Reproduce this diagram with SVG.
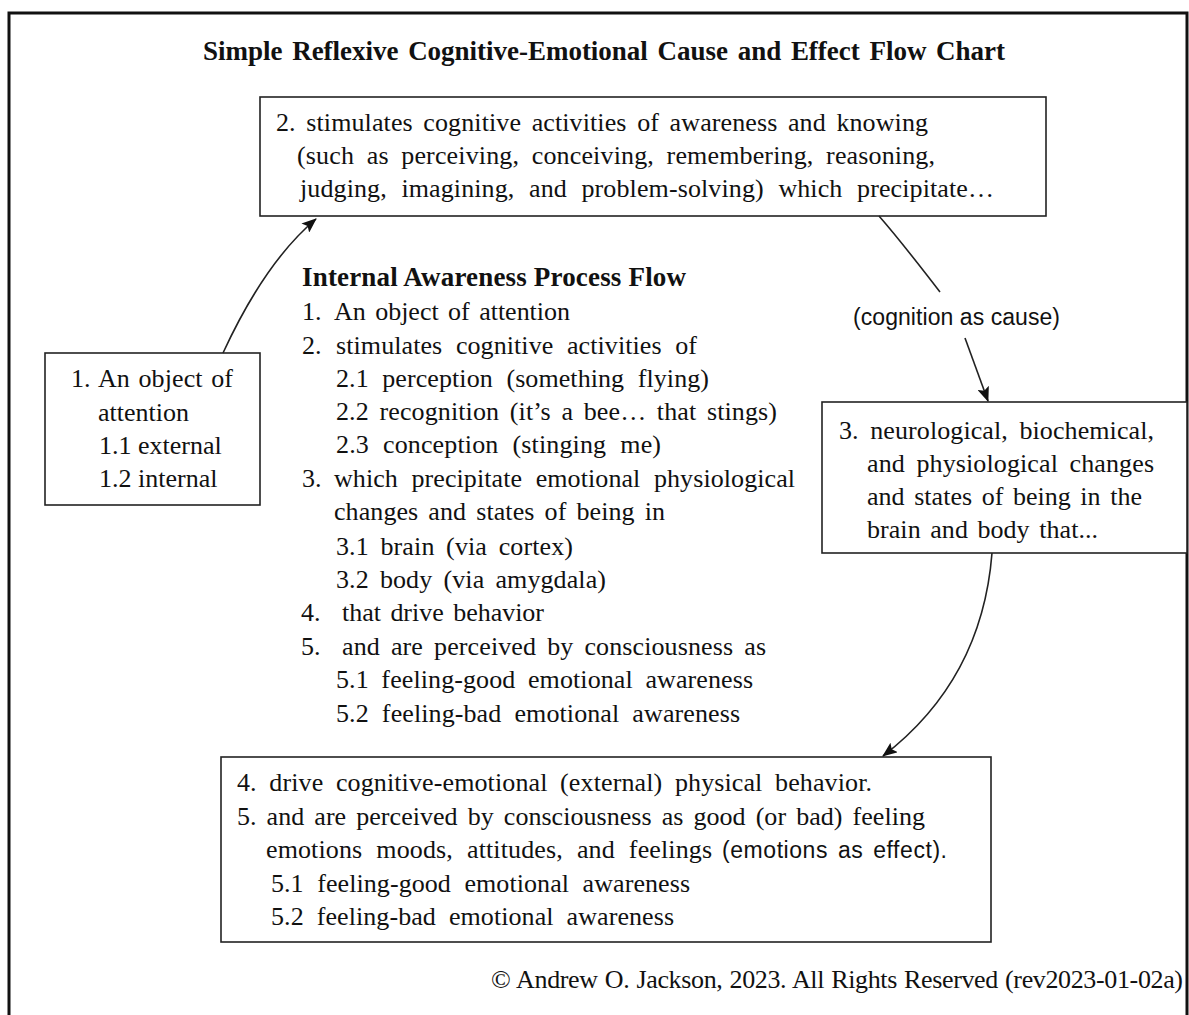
<svg xmlns="http://www.w3.org/2000/svg" width="1189" height="1015" viewBox="0 0 1189 1015">
<defs>
<style>
.box{fill:#fff;stroke:#222;stroke-width:1.6}
.t{font-family:"Liberation Serif","Times New Roman",serif;font-size:26px;fill:#111}
.b{font-family:"Liberation Serif","Times New Roman",serif;font-size:27px;font-weight:bold;fill:#111}
.s{font-family:"Liberation Sans",Arial,sans-serif;font-size:23px;fill:#111}
.c{fill:none;stroke:#222;stroke-width:1.6}
</style>
<marker id="ah" markerUnits="userSpaceOnUse" markerWidth="16" markerHeight="12" refX="14" refY="6" orient="auto">
<path d="M0,0 L15,6 L0,12 L3,6 z" fill="#111"/>
</marker>
</defs>
<rect width="1189" height="1015" fill="#fff"/>
<rect x="9" y="13" width="1178" height="1020" fill="none" stroke="#111" stroke-width="3"/>
<text class="b" x="203" y="60" word-spacing="3" textLength="802" lengthAdjust="spacing">Simple Reflexive Cognitive-Emotional Cause and Effect Flow Chart</text>

<g id="node-stimulates">
<rect class="box" x="260" y="97" width="786" height="119"/>
<text class="t" x="276" y="131" word-spacing="4" textLength="652" lengthAdjust="spacing">2. stimulates cognitive activities of awareness and knowing</text>
<text class="t" x="297" y="164" word-spacing="6" textLength="638" lengthAdjust="spacing">(such as perceiving, conceiving, remembering, reasoning,</text>
<text class="t" x="300" y="197" word-spacing="8" textLength="694" lengthAdjust="spacing">judging, imagining, and problem-solving) which precipitate…</text>
</g>

<g id="node-object">
<rect class="box" x="45" y="353" width="215" height="152"/>
<text class="t" x="71" y="387" word-spacing="2" textLength="162" lengthAdjust="spacing">1. An object of</text>
<text class="t" x="98" y="421">attention</text>
<text class="t" x="99" y="454">1.1 external</text>
<text class="t" x="99" y="487">1.2 internal</text>
</g>

<g id="node-process-flow">
<text class="b" x="302" y="286" textLength="384" lengthAdjust="spacing">Internal Awareness Process Flow</text>
<text class="t" x="302" y="320">1.</text><text class="t" x="334" y="320" word-spacing="3" textLength="236" lengthAdjust="spacing">An object of attention</text>
<text class="t" x="302" y="354">2.</text><text class="t" x="336" y="354" word-spacing="7" textLength="361" lengthAdjust="spacing">stimulates cognitive activities of</text>
<text class="t" x="336" y="387" word-spacing="7" textLength="373" lengthAdjust="spacing">2.1 perception (something flying)</text>
<text class="t" x="336" y="420" word-spacing="4" textLength="441" lengthAdjust="spacing">2.2 recognition (it’s a bee… that stings)</text>
<text class="t" x="336" y="453" word-spacing="7.5" textLength="325" lengthAdjust="spacing">2.3 conception (stinging me)</text>
<text class="t" x="302" y="487">3.</text><text class="t" x="334" y="487" word-spacing="7" textLength="461" lengthAdjust="spacing">which precipitate emotional physiological</text>
<text class="t" x="334" y="520" word-spacing="3.5" textLength="331" lengthAdjust="spacing">changes and states of being in</text>
<text class="t" x="336" y="555" word-spacing="5" textLength="237" lengthAdjust="spacing">3.1 brain (via cortex)</text>
<text class="t" x="336" y="588" word-spacing="4.5" textLength="270" lengthAdjust="spacing">3.2 body (via amygdala)</text>
<text class="t" x="301" y="621">4.</text><text class="t" x="342" y="621" word-spacing="3" textLength="202" lengthAdjust="spacing">that drive behavior</text>
<text class="t" x="301" y="655">5.</text><text class="t" x="342" y="655" word-spacing="4.5" textLength="424" lengthAdjust="spacing">and are perceived by consciousness as</text>
<text class="t" x="336" y="688" word-spacing="6" textLength="417" lengthAdjust="spacing">5.1 feeling-good emotional awareness</text>
<text class="t" x="336" y="722" word-spacing="6.5" textLength="404" lengthAdjust="spacing">5.2 feeling-bad emotional awareness</text>
</g>

<g id="node-changes">
<rect class="box" x="822" y="402" width="365" height="151"/>
<text class="t" x="839" y="439" word-spacing="5" textLength="315" lengthAdjust="spacing">3. neurological, biochemical,</text>
<text class="t" x="867" y="472" word-spacing="5" textLength="287" lengthAdjust="spacing">and physiological changes</text>
<text class="t" x="867" y="505" word-spacing="3" textLength="275" lengthAdjust="spacing">and states of being in the</text>
<text class="t" x="867" y="538" word-spacing="3" textLength="231" lengthAdjust="spacing">brain and body that...</text>
</g>

<g id="node-behavior">
<rect class="box" x="221" y="757" width="770" height="185"/>
<text class="t" x="237" y="791" word-spacing="6" textLength="635" lengthAdjust="spacing">4. drive cognitive-emotional (external) physical behavior.</text>
<text class="t" x="237" y="825" word-spacing="3.5" textLength="688" lengthAdjust="spacing">5. and are perceived by consciousness as good (or bad) feeling</text>
<text class="t" x="266" y="858" word-spacing="7.5" textLength="446" lengthAdjust="spacing">emotions moods, attitudes, and feelings</text>
<text class="s" x="722" y="858" word-spacing="3" textLength="225" lengthAdjust="spacing">(emotions as effect).</text>
<text class="t" x="271" y="892" word-spacing="7" textLength="419" lengthAdjust="spacing">5.1 feeling-good emotional awareness</text>
<text class="t" x="271" y="925" word-spacing="6.5" textLength="403" lengthAdjust="spacing">5.2 feeling-bad emotional awareness</text>
</g>

<g id="connectors">
<path class="c" d="M223,353 Q265,262 316,219" marker-end="url(#ah)"/>
<path class="c" d="M879,216 Q900,240 940,292"/>
<text class="s" x="853" y="325" font-size="22" textLength="207" lengthAdjust="spacing">(cognition as cause)</text>
<path class="c" d="M965,338 L988,401" marker-end="url(#ah)"/>
<path class="c" d="M992,553 Q982,680 883,756" marker-end="url(#ah)"/>
</g>

<text class="t" x="491" y="988" font-size="25" word-spacing="1" textLength="692" lengthAdjust="spacing">© Andrew O. Jackson, 2023. All Rights Reserved (rev2023-01-02a)</text>
</svg>
